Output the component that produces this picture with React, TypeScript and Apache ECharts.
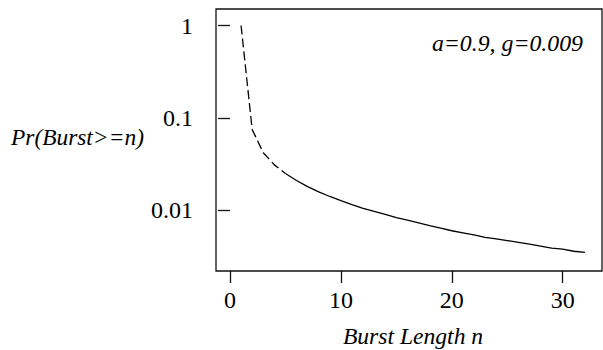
import React, { useEffect, useRef } from "react";
import * as echarts from "echarts";

const burstLength = [1, 2, 3, 4, 5, 6, 7, 8, 9, 10, 11, 12, 13, 14, 15, 16, 17, 18, 19, 20, 21, 22, 23, 24, 25, 26, 27, 28, 29, 30, 31, 32];
const probability = [1, 0.075, 0.042, 0.031, 0.025, 0.021, 0.018, 0.0158, 0.0141, 0.0127, 0.0115, 0.0105, 0.0097, 0.009, 0.0083, 0.0078, 0.0073, 0.0068, 0.0064, 0.006, 0.0057, 0.0054, 0.0051, 0.0049, 0.0047, 0.0045, 0.0043, 0.0041, 0.0039, 0.0038, 0.0036, 0.0035];
const dashedUntil = 5; // burst lengths up to this value are drawn dashed
const xTicks = [0, 10, 20, 30];
const yTicks = [0.01, 0.1, 1];
const yTickLabels = ["0.01", "0.1", "1"];
const annotation = "a=0.9, g=0.009";
const yTitle = "Pr(Burst>=n)";
const xTitle = "Burst Length n";

const FONT = "Liberation Serif";

export default function App() {
  const ref = useRef<HTMLDivElement>(null);
  useEffect(() => {
    if (!ref.current) return;
    const chart = echarts.init(ref.current, null, { renderer: "svg" });
    const pairs = burstLength.map((n, i) => [n, probability[i]]);
    const dashed = pairs.filter((p) => p[0] <= dashedUntil);
    const solid = pairs.filter((p) => p[0] >= dashedUntil);
    chart.setOption({
      animation: false,
      backgroundColor: "#fff",
      textStyle: { fontFamily: FONT },
      grid: {
        left: 216,
        top: 9,
        right: 1,
        bottom: 79,
        show: true,
        borderColor: "#111",
        borderWidth: 1.3,
        backgroundColor: "transparent",
      },
      xAxis: {
        type: "value",
        min: -1.26,
        max: 33.54,
        axisLine: { show: false },
        splitLine: { show: false },
        axisTick: {
          show: true,
          inside: false,
          length: 12,
          customValues: xTicks,
          lineStyle: { color: "#111", width: 1.3 },
        },
        axisLabel: {
          customValues: xTicks,
          margin: 17,
          fontSize: 24,
          fontFamily: FONT,
          color: "#000",
        },
      },
      yAxis: {
        type: "log",
        logBase: 10,
        min: 0.0022,
        max: 1.51,
        axisLine: { show: false },
        splitLine: { show: false },
        axisTick: {
          show: true,
          inside: false,
          length: 12,
          customValues: yTicks,
          lineStyle: { color: "#111", width: 1.3 },
        },
        axisLabel: {
          customValues: yTicks,
          margin: 23,
          fontSize: 24,
          fontFamily: FONT,
          color: "#000",
          formatter: (v: number) => {
            const idx = yTicks.findIndex((t) => Math.abs(Math.log10(t) - Math.log10(v)) < 1e-6);
            return idx >= 0 ? yTickLabels[idx] : "";
          },
        },
      },
      series: [
        {
          type: "line",
          data: dashed,
          showSymbol: false,
          silent: true,
          lineStyle: { color: "#000", width: 1.3, type: [9, 4] },
        },
        {
          type: "line",
          data: solid,
          showSymbol: false,
          silent: true,
          lineStyle: { color: "#000", width: 1.3, type: "solid" },
        },
      ],
      graphic: [
        {
          type: "text",
          x: 583,
          y: 43,
          style: {
            text: annotation,
            fontSize: 23.8,
            fontStyle: "italic",
            fontFamily: FONT,
            fill: "#000",
            textAlign: "right",
            textVerticalAlign: "middle",
          },
        },
        {
          type: "text",
          x: 11,
          y: 137,
          style: {
            text: yTitle,
            fontSize: 23.4,
            fontStyle: "italic",
            fontFamily: FONT,
            fill: "#000",
            textAlign: "left",
            textVerticalAlign: "middle",
          },
        },
        {
          type: "text",
          x: 413,
          y: 336,
          style: {
            text: xTitle,
            fontSize: 23.6,
            fontStyle: "italic",
            fontFamily: FONT,
            fill: "#000",
            textAlign: "center",
            textVerticalAlign: "middle",
          },
        },
      ],
    });
    return () => chart.dispose();
  }, []);
  return (
    <div
      ref={ref}
      style={{ position: "fixed", left: 0, top: 0, width: 603, height: 350, background: "#fff" }}
    />
  );
}
